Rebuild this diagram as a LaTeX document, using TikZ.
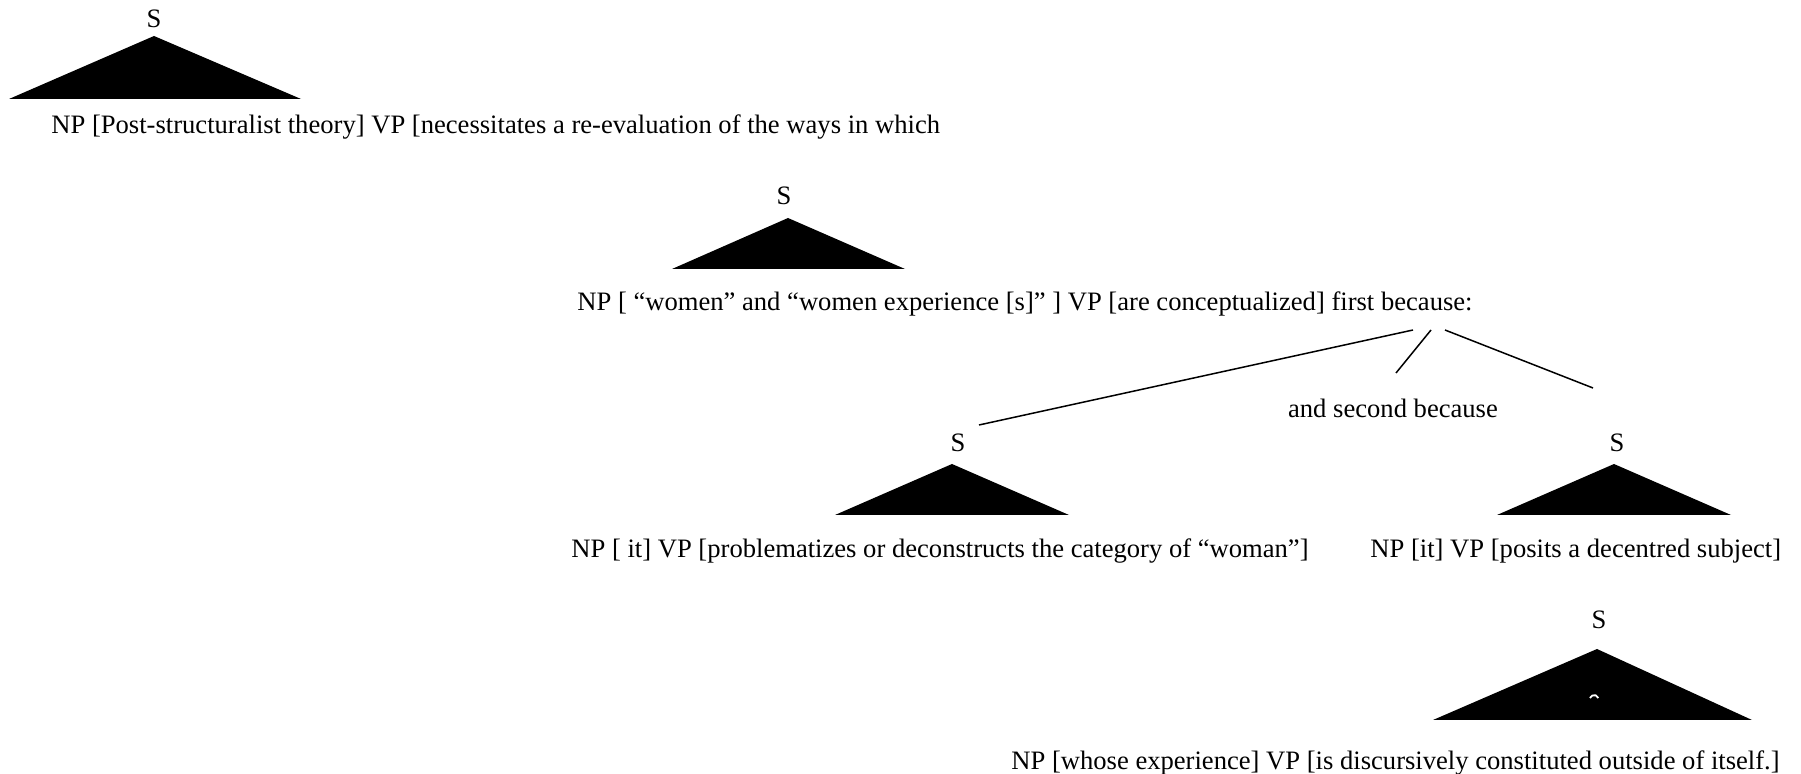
\documentclass[tikz,border=0pt]{standalone}
\usepackage{fontspec}
\setmainfont{Liberation Serif}
\begin{document}
\begin{tikzpicture}[x=0.5pt,y=-0.5pt,
  phrase/.style={inner sep=0pt,anchor=west,font=\fontsize{13.3}{15}\selectfont},
  cat/.style={inner sep=0pt,font=\fontsize{13.3}{15}\selectfont},
  roof/.style={fill=black,draw=none},
  branch/.style={line width=0.75pt}]
\useasboundingbox (0,0) rectangle (1801,774);

% first sentence
\node[cat] (s1) at (154,19) {S};
\fill[roof] (154,36) -- (301,99) -- (9,99) -- cycle;
\node[phrase] (t1) at (51,127) {NP [Post-structuralist theory] VP [necessitates a re-evaluation of the ways in which};

% embedded clause
\node[cat] (s2) at (784,196) {S};
\fill[roof] (788,218) -- (905,269) -- (672,269) -- cycle;
\node[phrase] (t2) at (577,304) {NP [ “women” and “women experience [s]” ] VP [are conceptualized] first because:};

% branches to the two reasons
\coordinate (b1) at (1413,330);
\coordinate (b2) at (1431,330);
\coordinate (b3) at (1445,330);
\node[cat] (and) at (1393,408) {and second because};
\node[cat] (s3) at (958,443) {S};
\node[cat] (s4) at (1617,443) {S};
\coordinate (e1) at (979,425);
\coordinate (e2) at (1396,373);
\coordinate (e3) at (1593,388);
\draw[branch] (b1) -- (e1);
\draw[branch] (b2) -- (e2);
\draw[branch] (b3) -- (e3);

\fill[roof] (952,464) -- (1069,515) -- (835,515) -- cycle;
\fill[roof] (1614,464) -- (1731,515) -- (1497,515) -- cycle;
\node[phrase] (t3) at (571,551) {NP [ it] VP [problematizes or deconstructs the category of “woman”]};
\node[phrase] (t4) at (1370,551) {NP [it] VP [posits a decentred subject]};

% relative clause
\node[cat] (s5) at (1599,620) {S};
\fill[roof] (1597,649) -- (1752,720) -- (1433,720) -- cycle;
\draw[white,line width=0.9pt] (1590,698) arc[start angle=200,end angle=340,radius=4.5];
\node[phrase] (t5) at (1011,763) {NP [whose experience] VP [is discursively constituted outside of itself.]};
\end{tikzpicture}
\end{document}
